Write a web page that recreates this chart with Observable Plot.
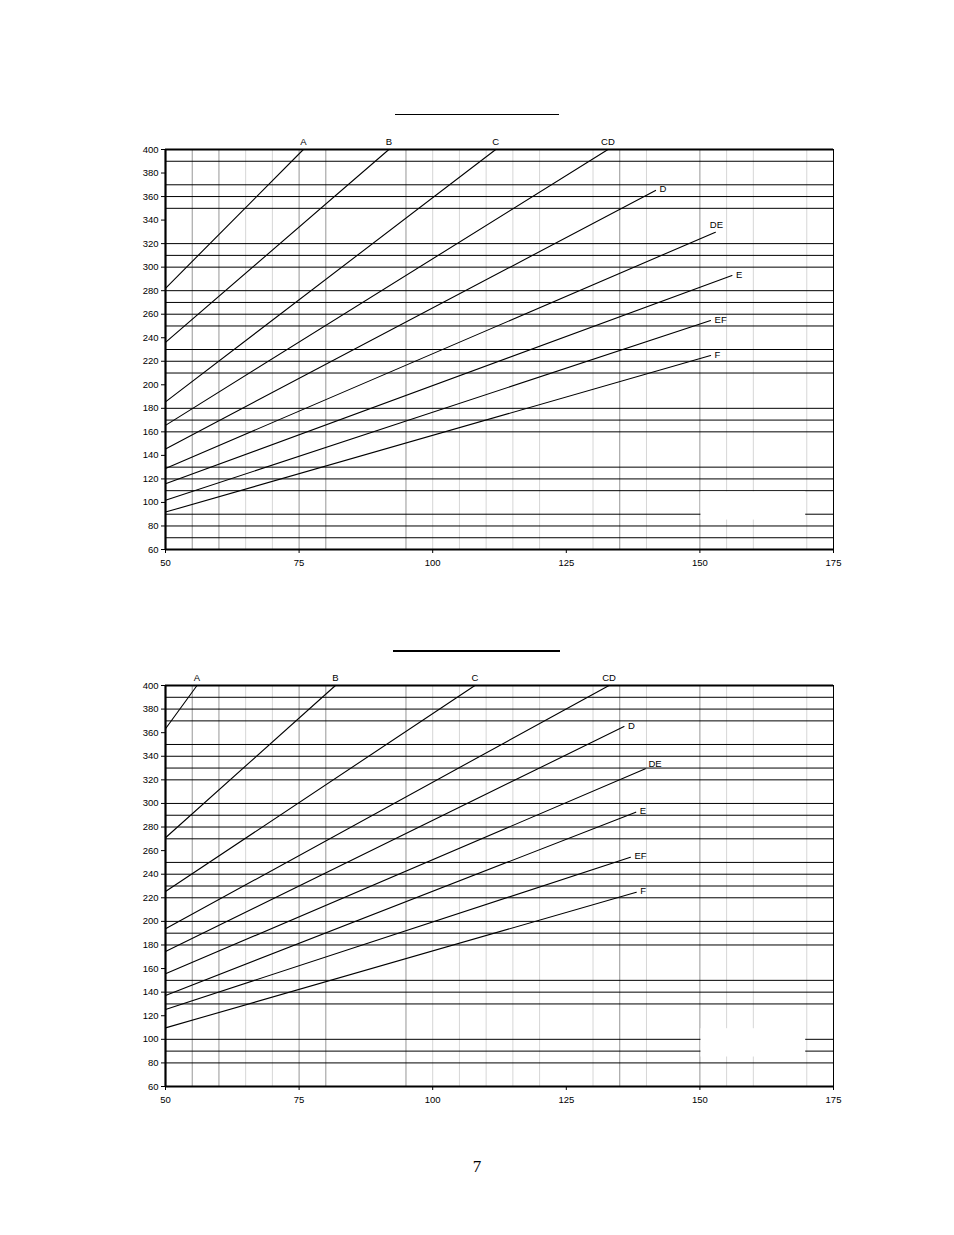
<!DOCTYPE html>
<html>
<head>
<meta charset="utf-8">
<script src="https://cdn.jsdelivr.net/npm/d3@7"></script>
<script src="https://cdn.jsdelivr.net/npm/@observablehq/plot@0.6"></script>
<style>
  html, body { margin: 0; padding: 0; background: #fff; }
  #page { position: relative; width: 954px; height: 1235px; background: #fff; overflow: hidden; }
  .chart { position: absolute; left: 0; width: 954px; }
  .title-rule { position: absolute; background: #000; }
  #pageno { position: absolute; left: 0; width: 954px; top: 1157px; text-align: center;
            font-family: "Liberation Serif", "DejaVu Serif", serif; font-size: 17px; color: #000; }
</style>
</head>
<body>
<div id="page">
  <div class="title-rule" style="left:395px; top:114px; width:164px; height:1.4px;"></div>
  <div class="chart" id="chart1" style="top:120px;"></div>
  <div class="title-rule" style="left:393px; top:650px; width:167px; height:2px;"></div>
  <div class="chart" id="chart2" style="top:655px;"></div>
  <div id="pageno">7</div>
</div>
<script>
// ---------- data ----------
const curveNames = ["A", "B", "C", "CD", "D", "DE", "E", "EF", "F"];

// upper chart
const topStartX = [50, 50, 50, 50, 50, 50, 50, 50, 50];
const topStartY = [282, 236, 185.5, 165.5, 145.5, 128.8, 115.8, 101.8, 91.8];
const topEndX   = [75.8, 91.8, 111.8, 132.8, 141.7, 152.9, 156.0, 152.0, 152.0];
const topEndY   = [400, 400, 400, 400, 365.2, 329.7, 292.9, 254.6, 224.9];
const topHLines = [390, 370, 360, 350, 320, 310, 300, 280, 270, 260, 250, 230, 220, 210,
                   180, 170, 160, 130, 120, 110, 90, 80, 70];

// lower chart
const botStartX = [50, 50, 50, 50, 50, 50, 50, 50, 50];
const botStartY = [363.3, 270.9, 225.3, 193.7, 174.5, 155.5, 137.2, 125.3, 109.7];
const botEndX   = [55.9, 81.8, 107.9, 133.0, 135.8, 139.8, 138.0, 137.0, 138.1];
const botEndY   = [400, 400, 400, 400, 365.2, 329.4, 292.6, 254.4, 224.7];
const botHLines = [390, 380, 370, 350, 340, 330, 320, 300, 290, 280, 270, 250, 240, 230,
                   220, 200, 190, 180, 150, 140, 130, 100, 90, 80];

// vertical gridlines (both charts)
const darkVLines  = [55, 60, 75, 80, 95, 135, 150];
const lightVLines = [65, 70, 100, 105, 110, 115, 120, 130, 140, 155, 160, 170];

const xTicks = [50, 75, 100, 125, 150, 175];
const yTicks = [60, 80, 100, 120, 140, 160, 180, 200, 220, 240, 260, 280, 300, 320, 340, 360, 380, 400];

// empty (white) legend box, in data units
const legendBoxX = [150.2, 169.8];
const legendBoxY = [85, 109];

// ---------- label placement (style) ----------
const placements = {
  above:      { textAnchor: "middle", dx: 0, dy: -8 },
  aboveNear:  { textAnchor: "middle", dx: 1, dy: -7 },
  right:      { textAnchor: "start",  dx: 4, dy: -1 },
  rightUp:    { textAnchor: "start",  dx: 3, dy: -5 }
};
const topPlacement = { A: "above", B: "above", C: "above", CD: "above", D: "right",
                       DE: "aboveNear", E: "right", EF: "right", F: "right" };
const botPlacement = { A: "above", B: "above", C: "above", CD: "above", D: "right",
                       DE: "rightUp", E: "right", EF: "right", F: "right" };

function buildChart(startX, startY, endX, endY, hLines, placement, marginTop, marginBottom) {
  const rows = curveNames.flatMap((c, i) => [
    { curve: c, x: startX[i], y: startY[i] },
    { curve: c, x: endX[i], y: endY[i] }
  ]);
  const ends = curveNames.map((c, i) => ({ curve: c, x: endX[i], y: endY[i], place: placement[c] }));
  const labelMarks = Object.entries(placements).map(([key, p]) =>
    Plot.text(ends.filter(d => d.place === key), {
      x: "x", y: "y", text: "curve",
      textAnchor: p.textAnchor, dx: p.dx, dy: p.dy,
      fill: "black", fontSize: 9.5
    })
  );
  return Plot.plot({
    width: 954,
    height: 470,
    marginLeft: 165,
    marginRight: 121,
    marginTop,
    marginBottom,
    x: { domain: [50, 175] },
    y: { domain: [60, 400] },
    style: {
      fontFamily: "'Liberation Sans', Arial, Helvetica, sans-serif",
      fontSize: "9.5px",
      color: "black",
      background: "transparent",
      overflow: "visible"
    },
    marks: [
      Plot.ruleX(lightVLines, { stroke: "#d6d6d6", strokeWidth: 1 }),
      Plot.ruleX(darkVLines, { stroke: "#969696", strokeWidth: 1 }),
      Plot.ruleY(hLines, { stroke: "black", strokeWidth: 1 }),
      Plot.rect([{ x1: legendBoxX[0], x2: legendBoxX[1], y1: legendBoxY[0], y2: legendBoxY[1] }],
                { x1: "x1", x2: "x2", y1: "y1", y2: "y2", fill: "white", inset: 0 }),
      Plot.line(rows, { x: "x", y: "y", z: "curve", stroke: "black", strokeWidth: 1.1 }),
      Plot.ruleX([175], { stroke: "black", strokeWidth: 1 }),
      Plot.ruleY([400], { stroke: "black", strokeWidth: 2 }),
      Plot.ruleY([60], { stroke: "black", strokeWidth: 2.2 }),
      Plot.ruleX([50], { stroke: "black", strokeWidth: 2.2 }),
      Plot.axisX(xTicks, { tickSize: 4, tickPadding: 6, fontSize: 9.5 }),
      Plot.axisY(yTicks, { tickSize: 4, tickPadding: 3, fontSize: 9.5 }),
      ...labelMarks
    ]
  });
}

document.getElementById("chart1").append(
  buildChart(topStartX, topStartY, topEndX, topEndY, topHLines, topPlacement, 29, 41)
);
document.getElementById("chart2").append(
  buildChart(botStartX, botStartY, botEndX, botEndY, botHLines, botPlacement, 30, 39)
);
</script>
</body>
</html>
